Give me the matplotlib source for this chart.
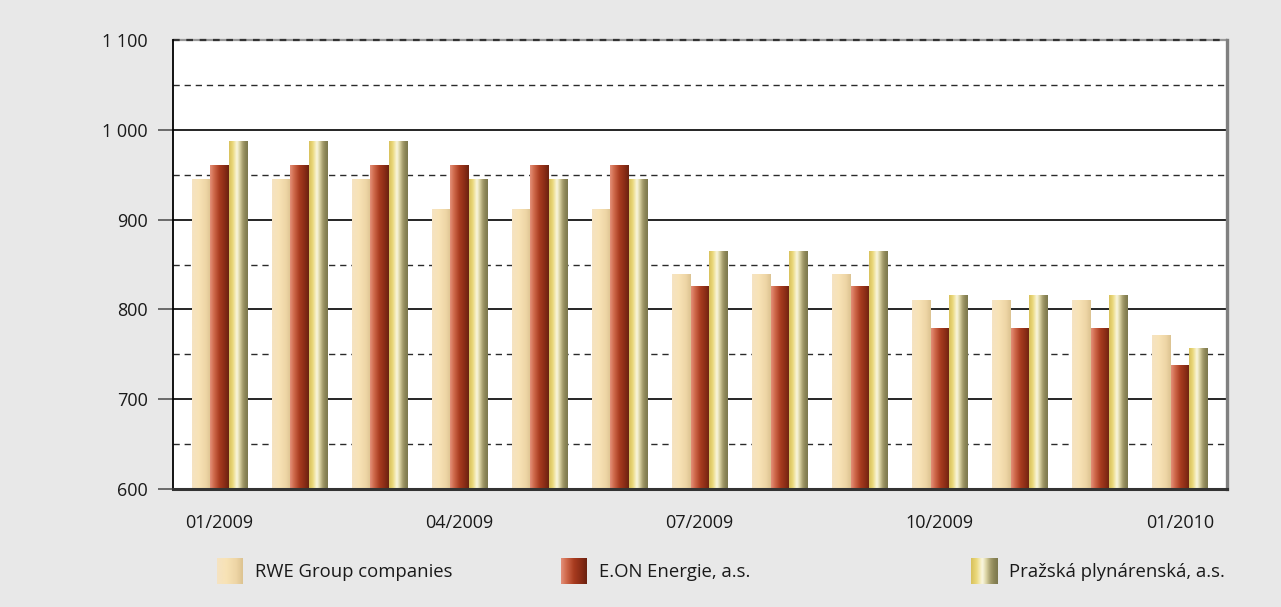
import numpy as np
import matplotlib.pyplot as plt
from matplotlib.colors import LinearSegmentedColormap


plt.rcParams["font.family"] = ["Open Sans", "DejaVu Sans"]

PERIODS = [
    "01/2009", "02/2009", "03/2009", "04/2009", "05/2009", "06/2009",
    "07/2009", "08/2009", "09/2009", "10/2009", "11/2009", "12/2009",
    "01/2010",
]
RWE = [945, 945, 945, 911, 911, 911, 839, 839, 839, 810, 810, 810, 771]
EON = [960, 960, 960, 960, 960, 960, 826, 826, 826, 779, 779, 779, 738]
PRAHA = [987, 987, 987, 945, 945, 945, 864, 864, 864, 816, 816, 816, 757]
SERIES_NAMES = ["RWE Group companies", "E.ON Energie, a.s.", "Pražská plynárenská, a.s."]

BG = "#e8e8e8"

# horizontal gradients used to fake the shaded cylinder look of the bars
CMAPS = [
    LinearSegmentedColormap.from_list("rwe", [
        (0.0, "#f5e3c2"), (0.35, "#f8e3b6"), (0.75, "#eed5a5"), (1.0, "#dcc391")]),
    LinearSegmentedColormap.from_list("eon", [
        (0.0, "#e3907a"), (0.2, "#d06a4c"), (0.5, "#a83b1f"), (0.8, "#872b15"), (1.0, "#6a2211")]),
    LinearSegmentedColormap.from_list("praha", [
        (0.0, "#d8c15c"), (0.2, "#ebd97c"), (0.42, "#faf7e2"), (0.56, "#ddd6a6"),
        (0.72, "#a79f6f"), (0.86, "#8c8657"), (1.0, "#7c784e")]),
]
GRAD = np.linspace(0, 1, 64).reshape(1, -1)


def gradient_bar(ax, x0, x1, top, cmap, base=600):
    ax.imshow(GRAD, cmap=cmap, extent=(x0, x1, base, top),
              aspect="auto", interpolation="bicubic", zorder=3)


fig = plt.figure(figsize=(12.81, 6.07), dpi=100, facecolor=BG)
ax = fig.add_axes([0.1351, 0.1944, 0.8228, 0.7397])
ax.set_facecolor("white")

bar_w = 0.229
offsets = [-1.5 * bar_w, -0.5 * bar_w, 0.5 * bar_w]
for values, off, cmap in zip([RWE, EON, PRAHA], offsets, CMAPS):
    for i, v in enumerate(values):
        gradient_bar(ax, i + off, i + off + bar_w, v, cmap)

# grid: solid at hundreds, dashed at the fifties
for y in [700, 800, 900, 1000]:
    ax.axhline(y, color="black", lw=1.2, zorder=1)
for y in [650, 750, 850, 950, 1050]:
    ax.axhline(y, color="#2a2a2a", lw=1.0, ls=(0, (4.5, 3.5)), zorder=1)
ax.axhline(1100, color="#999999", lw=1.6, zorder=1, clip_on=False)
ax.axhline(1100, color="#333333", lw=1.6, ls=(0, (3, 3)), zorder=1, clip_on=False)

ax.set_xlim(-0.58, 12.59)
ax.set_ylim(600, 1100)

ax.set_yticks([600, 700, 800, 900, 1000, 1100])
ax.set_yticklabels(["600", "700", "800", "900", "1 000", "1 100"],
                   fontsize=13, color="#1a1a1a")
ax.tick_params(axis="y", length=11, width=1.2, color="#555555", pad=7)
ax.yaxis.get_major_ticks()[-1].tick1line.set_visible(False)

tick_idx = list(range(0, len(PERIODS), 3))
ax.set_xticks(tick_idx)
ax.set_xticklabels([PERIODS[i] for i in tick_idx], fontsize=13, color="#1a1a1a")
ax.tick_params(axis="x", length=0, pad=18)

ax.spines["top"].set_visible(False)
ax.spines["left"].set_color("black")
ax.spines["left"].set_linewidth(1.3)
ax.spines["bottom"].set_color("#333333")
ax.spines["bottom"].set_linewidth(2.2)
ax.spines["right"].set_color("#808080")
ax.spines["right"].set_linewidth(2.4)
for s in ax.spines.values():
    s.set_zorder(4)

# legend built from small gradient swatches
W, H = 1281, 607
legend_items = [(217, 255), (561, 599), (971, 1009)]
for (px, tx), name, cmap in zip(legend_items, SERIES_NAMES, CMAPS):
    sw = fig.add_axes([px / W, 1 - 584 / H, 26 / W, 26 / H])
    sw.imshow(GRAD, cmap=cmap, aspect="auto", interpolation="bicubic")
    sw.axis("off")
    fig.text(tx / W, 1 - 572 / H, name, fontsize=13.3, color="#1a1a1a",
             ha="left", va="center")

fig.savefig("out.png", dpi=100, facecolor=BG)
